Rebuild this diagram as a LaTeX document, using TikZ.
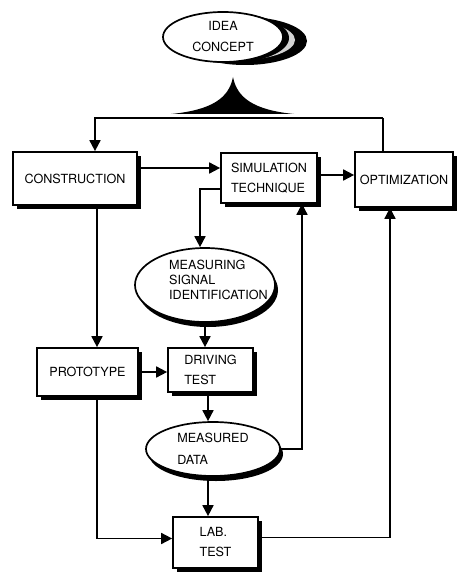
\documentclass[tikz,border=0pt]{standalone}
\usepackage{fontspec}
\setmainfont{TeX Gyre Heros}
\usetikzlibrary{arrows.meta,shapes.geometric,shadows}
\begin{document}
\begin{tikzpicture}[x=1pt,y=-1pt,
  bshad/.style={drop shadow={shadow xshift=4pt,shadow yshift=-4pt,opacity=1,fill=black}},
  eshad/.style={drop shadow={shadow xshift=3pt,shadow yshift=-5pt,opacity=1,fill=black}},
  box/.style={draw,line width=1.7pt,fill=white,rectangle,inner sep=0pt,align=left,font=\fontsize{12.6}{20}\selectfont,bshad},
  oval/.style={draw,line width=1.7pt,fill=white,ellipse,inner sep=0pt,align=left,font=\fontsize{12.6}{22}\selectfont},
  conn/.style={line width=1.7pt},
  arr/.style={conn,-{Triangle[length=11pt,width=11pt]}},
  lbl/.style={align=left,inner sep=0pt}]
\useasboundingbox (0,0) rectangle (458,575);

% idea ellipse with crescent shadow
\fill[black] (245,41) ellipse [x radius=62,y radius=24];
\fill[gray!35] (240,40) ellipse [x radius=55,y radius=20];
\fill[black] (229,38) ellipse [x radius=60,y radius=25];
\node[oval,align=center,font=\fontsize{12.6}{21}\selectfont,minimum width=120pt,minimum height=50pt] (idea) at (223,37) {IDEA\\CONCEPT};

% bell
\fill (171,114) .. controls (212,110) and (229,98) .. (233,77) .. controls (237,98) and (254,110) .. (294,114) -- cycle;

% boxes
\node[box,minimum width=124pt,minimum height=53pt] (constr) at (75,178.5) {CONSTRUCTION};
\node[box,minimum width=96pt,minimum height=50pt] (sim) at (269,178) {SIMULATION\\TECHNIQUE};
\node[box,minimum width=98pt,minimum height=55pt] (opt) at (404,179.5) {OPTIMIZATION};
\node[box,minimum width=101pt,minimum height=48pt] (proto) at (87.5,372) {PROTOTYPE};
\node[box,minimum width=85pt,minimum height=44pt] (drive) at (210.5,370) {DRIVING\\TEST};
\node[box,minimum width=85pt,minimum height=51pt] (lab) at (215.5,542.5) {LAB.\\TEST};

% ellipses
\node[oval,eshad,minimum width=140pt,minimum height=74pt] (meas) at (205,285) {};
\node[lbl,font=\fontsize{12.6}{15}\selectfont] (measT) at (218.5,279.5) {MEASURING\\SIGNAL\\IDENTIFICATION};
\node[oval,eshad,minimum width=134pt,minimum height=54pt] (data) at (213,449) {MEASURED\\DATA};

% helper coordinates
\coordinate (tl) at (95,118);
\coordinate (tr) at (383,118);
\coordinate (vx) at (97,0);
\coordinate (vm) at (200,0);
\coordinate (vd) at (208,0);
\coordinate (vs) at (302,0);
\coordinate (vo) at (390,0);

% connectors
\draw[arr] (tr) -- (tl) -- (tl |- constr.north);
\draw[conn] (tr) -- (tr |- opt.north);
\draw[arr] ([yshift=10.5pt]constr.east) -- ([yshift=10pt]sim.west);
\draw[arr] ([yshift=3pt]sim.east) -- ([yshift=4.5pt]opt.west);
\draw[arr] ([yshift=-11pt]sim.west) -| (vm |- meas.north);
\draw[arr] (vx |- constr.south) -- (vx |- proto.north);
\draw[arr] (meas.south) -- (meas.south |- drive.north);
\draw[arr] (proto.east) -- (proto.east -| drive.west);
\draw[arr] (vx |- proto.south) |- ([yshift=4pt]lab.west);
\draw[arr] (vd |- drive.south) -- (vd |- data.north);
\draw[arr] (data.east) -| (vs |- sim.south);
\draw[arr] (vd |- data.south) -- (vd |- lab.north);
\draw[arr] ([yshift=5pt]lab.east) -| (vo |- opt.south);
\end{tikzpicture}
\end{document}
